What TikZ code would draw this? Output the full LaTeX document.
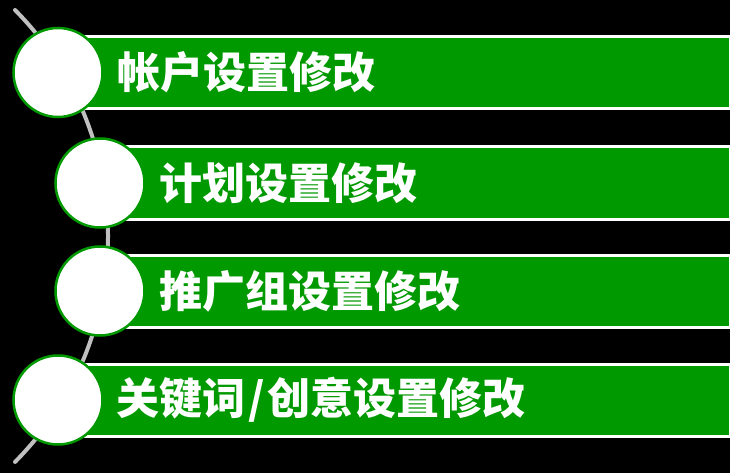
\documentclass[tikz,border=0pt]{standalone}
\usepackage{fontspec}
\newfontfamily\cjk{Noto Sans CJK SC}
\definecolor{barg}{HTML}{009900}
\definecolor{arcg}{HTML}{C0C0C0}
\begin{document}
\begin{tikzpicture}[x=1pt,y=-1pt,
  bar/.style={draw=white, line width=3pt, fill=barg, rectangle, inner sep=0pt,
    minimum height=72pt, anchor=west},
  disc/.style={draw=barg, line width=2.5pt, fill=white, circle, inner sep=0pt,
    minimum size=89pt},
  label/.style={text=white, anchor=west, inner sep=0pt, font=\cjk\bfseries\fontsize{43}{43}\selectfont}]
\fill[black] (0,0) rectangle (730,473);
\useasboundingbox (0,0) rectangle (730,473);
\draw[arcg, line width=4pt, line cap=round] (15,10) arc[start angle=-44.75, end angle=44.75, radius=321];
\node[bar, minimum width=670.5pt] (b1) at (58,72.5) {};
\node[bar, minimum width=628.5pt] (b2) at (100,183) {};
\node[bar, minimum width=628.5pt] (b3) at (100,291) {};
\node[bar, minimum width=670.5pt] (b4) at (58,400) {};
\node[disc] (c1) at (58,72.5) {};
\node[disc] (c2) at (100,183) {};
\node[disc] (c3) at (100,291) {};
\node[disc] (c4) at (58,400) {};
\node[label] (t1) at (117,72.5) {帐户设置修改};
\node[label] (t2) at (159,183) {计划设置修改};
\node[label] (t3) at (159,291) {推广组设置修改};
\node[label] (t4) at (116,400) {关键词\hspace{3pt}/\hspace{3pt}创意设置修改};
\end{tikzpicture}
\end{document}
